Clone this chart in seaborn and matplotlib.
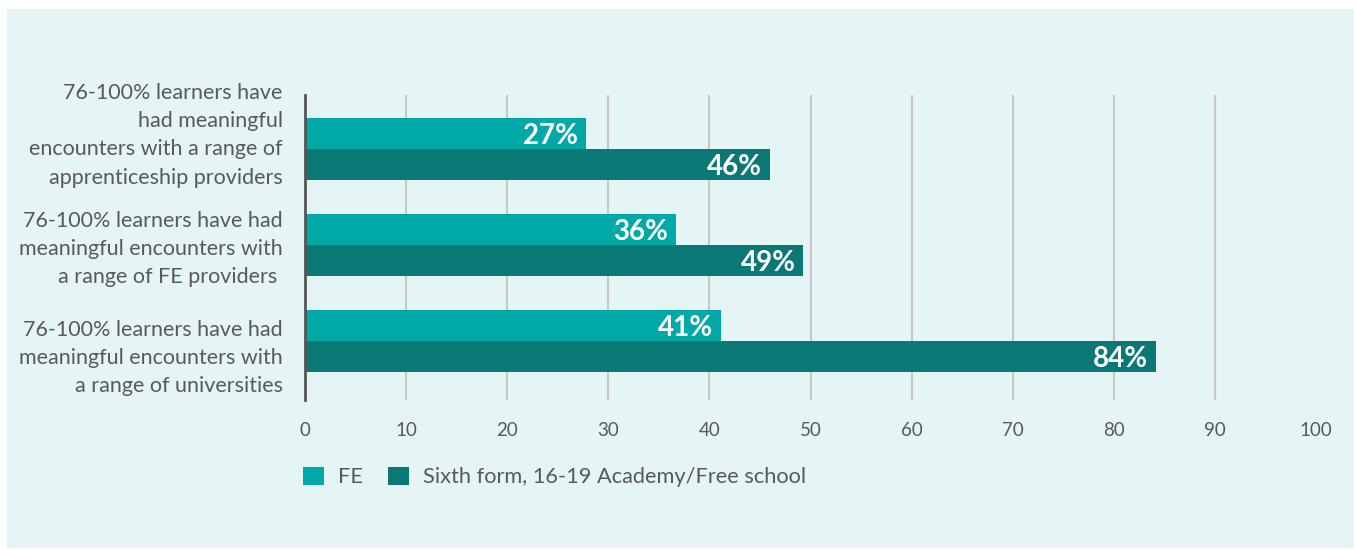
import pandas as pd
import matplotlib.pyplot as plt
import matplotlib.transforms as mtransforms
from matplotlib.patches import Rectangle, Patch
import seaborn as sns

# Chart data
categories = [
    "76-100% learners have\nhad meaningful\nencounters with a range of\napprenticeship providers",
    "76-100% learners have had\nmeaningful encounters with\na range of FE providers ",
    "76-100% learners have had\nmeaningful encounters with\na range of universities",
]
series_names = ["FE", "Sixth form, 16-19 Academy/Free school"]
fe_values = [27.8, 36.7, 41.1]
sixth_values = [46.0, 49.3, 84.2]
fe_labels = ["27%", "36%", "41%"]
sixth_labels = ["46%", "49%", "84%"]
x_ticks = [0, 10, 20, 30, 40, 50, 60, 70, 80, 90, 100]

colors = {"FE": "#00a9a8", "Sixth form, 16-19 Academy/Free school": "#0a7874"}
text_grey = "#595959"

df = pd.DataFrame({
    "category": categories * 2,
    "series": [series_names[0]] * 3 + [series_names[1]] * 3,
    "value": fe_values + sixth_values,
})

sns.set_theme(style="white")
plt.rcParams["font.family"] = ["Lato", "DejaVu Sans"]

W, H = 1356, 550
fig = plt.figure(figsize=(W / 100, H / 100), dpi=100, facecolor="white")

# light teal panel behind everything
fig.add_artist(Rectangle((7 / W, 2 / H), 1347 / W, 539 / H, transform=fig.transFigure,
                         facecolor="#e5f5f5", edgecolor="none", zorder=-10))

ax = fig.add_axes([305 / W, 1 - 400 / H, (1316 - 305) / W, 305 / H])
ax.set_facecolor("none")

sns.barplot(data=df, y="category", x="value", hue="series", orient="h",
            palette=colors, width=0.646, saturation=1, linewidth=0,
            ax=ax, legend=False)

ax.set_xlim(0, 100)
ax.set_ylim(2.615, -0.5625)
ax.set_xticks(x_ticks)
ax.set_xlabel("")
ax.set_ylabel("")

# vertical gridlines (not at 0 or 100)
ax.grid(axis="x", color="#c8c8c8", linewidth=1.5)
ax.grid(axis="y", visible=False)
ax.set_axisbelow(True)
gl = ax.get_xgridlines()
gl[0].set_visible(False)
gl[-1].set_visible(False)

for s in ["top", "right", "bottom"]:
    ax.spines[s].set_visible(False)
ax.spines["left"].set_color("#555555")
ax.spines["left"].set_linewidth(2)

ax.tick_params(axis="x", length=0, pad=16, labelsize=13.5, labelcolor=text_grey)
ax.tick_params(axis="y", length=0, pad=16, labelsize=15.5, labelcolor=text_grey)
for lab in ax.get_yticklabels():
    lab.set_linespacing(1.52)
    lab.set_multialignment("right")

# nudge category labels to match the reference layout
shifts = [20, 2, -11]
for lab, dy in zip(ax.get_yticklabels(), shifts):
    lab.set_transform(lab.get_transform() + mtransforms.ScaledTranslation(0, dy / 100, fig.dpi_scale_trans))

# value labels inside the bar ends
for container, labels in zip(ax.containers, [fe_labels, sixth_labels]):
    for bar, text in zip(container.patches, labels):
        ax.annotate(text, (bar.get_width(), bar.get_y() + bar.get_height() / 2),
                    xytext=(-8, 0), textcoords="offset pixels", color="white",
                    fontsize=20, fontweight="bold", ha="right", va="center_baseline")

# legend
handles = [Patch(facecolor=colors[n], edgecolor="none") for n in series_names]
fig.legend(handles, series_names, loc="center left", bbox_to_anchor=(303 / W, 1 - 477 / H),
           ncol=2, frameon=False, fontsize=15.7, labelcolor=text_grey,
           handlelength=0.95, handleheight=0.95, handletextpad=0.65, columnspacing=1.15,
           borderpad=0, borderaxespad=0)

fig.savefig("out.png", dpi=100, facecolor="white")
